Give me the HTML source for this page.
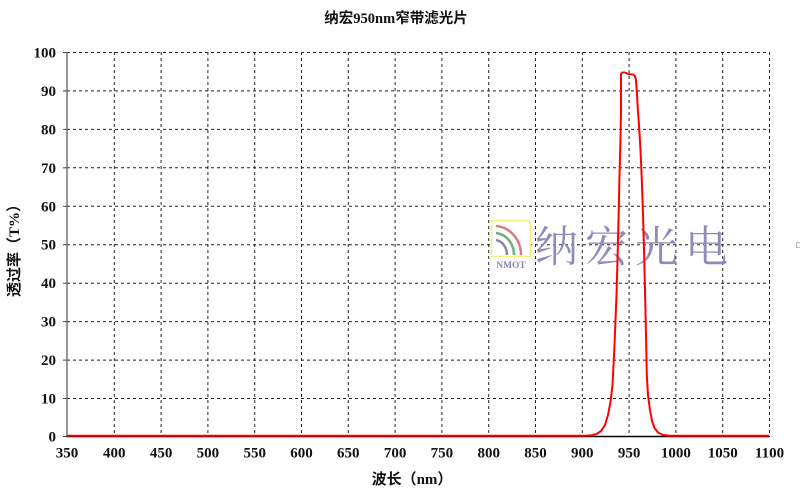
<!DOCTYPE html>
<html><head><meta charset="utf-8"><style>
html,body{margin:0;padding:0;background:#fff;}
svg{display:block;}
</style></head><body>
<svg width="800" height="493" viewBox="0 0 800 493" xmlns="http://www.w3.org/2000/svg">
<rect width="800" height="493" fill="#fff"/>
<!-- title -->
<text x="396" y="23" text-anchor="middle" font-family="'Liberation Serif','Noto Sans CJK SC',serif" font-weight="bold" font-size="14.5" fill="#111">纳宏950nm窄带滤光片</text>
<!-- grid -->
<g stroke="#222" stroke-width="1" stroke-dasharray="3,3" fill="none">
<line x1="67" y1="52.5" x2="770" y2="52.5"/>
<line x1="67" y1="90.9" x2="770" y2="90.9"/>
<line x1="67" y1="129.4" x2="770" y2="129.4"/>
<line x1="67" y1="167.8" x2="770" y2="167.8"/>
<line x1="67" y1="206.3" x2="770" y2="206.3"/>
<line x1="67" y1="244.7" x2="770" y2="244.7"/>
<line x1="67" y1="283.2" x2="770" y2="283.2"/>
<line x1="67" y1="321.6" x2="770" y2="321.6"/>
<line x1="67" y1="360.1" x2="770" y2="360.1"/>
<line x1="67" y1="398.5" x2="770" y2="398.5"/>
<line x1="114.3" y1="52" x2="114.3" y2="436"/>
<line x1="161.1" y1="52" x2="161.1" y2="436"/>
<line x1="207.9" y1="52" x2="207.9" y2="436"/>
<line x1="254.7" y1="52" x2="254.7" y2="436"/>
<line x1="301.5" y1="52" x2="301.5" y2="436"/>
<line x1="348.3" y1="52" x2="348.3" y2="436"/>
<line x1="395.1" y1="52" x2="395.1" y2="436"/>
<line x1="441.9" y1="52" x2="441.9" y2="436"/>
<line x1="488.7" y1="52" x2="488.7" y2="436"/>
<line x1="535.5" y1="52" x2="535.5" y2="436"/>
<line x1="582.3" y1="52" x2="582.3" y2="436"/>
<line x1="629.1" y1="52" x2="629.1" y2="436"/>
<line x1="675.9" y1="52" x2="675.9" y2="436"/>
<line x1="722.7" y1="52" x2="722.7" y2="436"/>
<line x1="769.5" y1="52" x2="769.5" y2="436"/>
</g>
<!-- watermark -->
<g>
<path d="M491.5 220.5 H526 Q530.5 220.5 530.5 225 V256.5 H491.5 Z" fill="#fff" stroke="#f3ef7a" stroke-width="1.5"/>
<path d="M496 226 A27 29 0 0 1 521 255" fill="none" stroke="#e07a80" stroke-width="2.5"/>
<path d="M496 233 A20 22 0 0 1 514 255" fill="none" stroke="#6cb07c" stroke-width="2.5"/>
<path d="M496 240 A13 15 0 0 1 507 255" fill="none" stroke="#8a86b4" stroke-width="2.5"/>
<text x="511" y="268" text-anchor="middle" font-family="'Liberation Serif',serif" font-weight="bold" font-size="9.5" fill="#8a86b4">NMOT</text>
<text x="535" y="262" font-family="'Liberation Serif','Noto Serif CJK SC',serif" font-size="43" fill="#8e8bbb" letter-spacing="7">纳宏光电</text>
</g>
<rect x="796.5" y="242.5" width="4" height="5" fill="none" stroke="#bbb" stroke-width="1"/>
<!-- axes -->
<line x1="67" y1="52" x2="67" y2="437" stroke="#777" stroke-width="1.5"/>
<line x1="66" y1="436.5" x2="770" y2="436.5" stroke="#000" stroke-width="1.5"/>
<g stroke="#444" stroke-width="1">
<line x1="63" y1="52.5" x2="67" y2="52.5"/><line x1="63" y1="90.9" x2="67" y2="90.9"/><line x1="63" y1="129.4" x2="67" y2="129.4"/><line x1="63" y1="167.8" x2="67" y2="167.8"/><line x1="63" y1="206.3" x2="67" y2="206.3"/><line x1="63" y1="244.7" x2="67" y2="244.7"/><line x1="63" y1="283.2" x2="67" y2="283.2"/><line x1="63" y1="321.6" x2="67" y2="321.6"/><line x1="63" y1="360.1" x2="67" y2="360.1"/><line x1="63" y1="398.5" x2="67" y2="398.5"/><line x1="63" y1="436.5" x2="67" y2="436.5"/>
</g>
<!-- curve -->
<polyline fill="none" stroke="#ff0000" stroke-width="2" stroke-linejoin="round" points="67,435.8 585,435.8 592,435.2 597,433.8 601,431 605,425 608,415 610.5,402 612.5,385 613.5,365 614.5,345 615.5,320 616.5,295 617.5,260 618.5,220 619.5,175 620.5,140 621,110 621,74 622,72.5 625,72.5 628,74 633,74.5 635,76 636,80 637,95 638,112 639,125 640.5,150 642,185 643,215 644,250 645,290 646,335 646.8,375 648,395 650,410 652,421 654.5,428 658,432.5 663,435 670,435.8 769,435.8"/>
<!-- y labels -->
<g font-family="'Liberation Serif',serif" font-size="15" font-weight="bold" fill="#111" text-anchor="end">
<text x="56" y="57.5">100</text><text x="56" y="95.9">90</text><text x="56" y="134.4">80</text><text x="56" y="172.8">70</text><text x="56" y="211.3">60</text><text x="56" y="249.7">50</text><text x="56" y="288.2">40</text><text x="56" y="326.6">30</text><text x="56" y="365.1">20</text><text x="56" y="403.5">10</text><text x="56" y="441.5">0</text>
</g>
<!-- x labels -->
<g font-family="'Liberation Serif',serif" font-size="15" font-weight="bold" fill="#111" text-anchor="middle">
<text x="67" y="457.5">350</text><text x="114.3" y="457.5">400</text><text x="161.1" y="457.5">450</text><text x="207.9" y="457.5">500</text><text x="254.7" y="457.5">550</text><text x="301.5" y="457.5">600</text><text x="348.3" y="457.5">650</text><text x="395.1" y="457.5">700</text><text x="441.9" y="457.5">750</text><text x="488.7" y="457.5">800</text><text x="535.5" y="457.5">850</text><text x="582.3" y="457.5">900</text><text x="629.1" y="457.5">950</text><text x="675.9" y="457.5">1000</text><text x="722.7" y="457.5">1050</text><text x="769.5" y="457.5">1100</text>
</g>
<!-- axis titles -->
<text x="412" y="484" text-anchor="middle" font-family="'Liberation Serif','Noto Sans CJK SC',serif" font-weight="bold" font-size="15" fill="#111">波长（nm）</text>
<text transform="translate(19,247) rotate(-90)" text-anchor="middle" font-family="'Liberation Serif','Noto Sans CJK SC',serif" font-weight="bold" font-size="15" fill="#111">透过率（T%）</text>
</svg>
</body></html>
